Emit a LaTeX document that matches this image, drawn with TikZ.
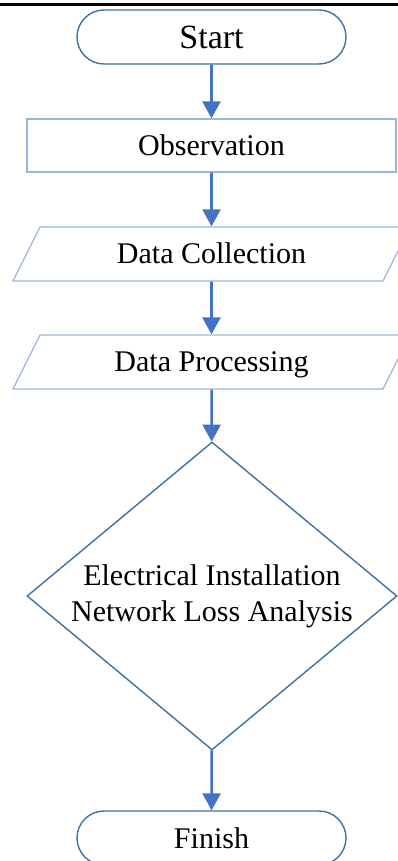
\documentclass[tikz,border=0pt]{standalone}
\usepackage{fontspec}
\setmainfont{Liberation Serif}
\usetikzlibrary{arrows.meta, shapes.geometric, shapes.misc}
\definecolor{termblue}{HTML}{41719C}
\definecolor{boxblue}{HTML}{9DB5DC}
\definecolor{flowblue}{HTML}{4472C4}
\tikzset{>={Triangle[width=18pt,length=17pt]},
  terminal/.style={rounded rectangle, draw=termblue, line width=1.4pt,
    minimum width=269pt, minimum height=54pt, inner sep=0pt},
  procbox/.style={rectangle, draw=boxblue, line width=1.3pt,
    minimum width=369pt, minimum height=53pt, inner sep=0pt},
  iobox/.style={trapezium, trapezium left angle=63.43, trapezium right angle=116.57,
    trapezium stretches body, draw=boxblue, line width=1.3pt,
    text height=22pt, text depth=4pt, inner ysep=14pt, inner xsep=0pt,
    minimum width=397pt},
  decision/.style={diamond, shape aspect=1.2, draw=termblue, line width=1.4pt,
    minimum width=370pt, minimum height=308pt, inner sep=0pt, align=center},
  flow/.style={->, draw=flowblue, line width=2.6pt}}

\begin{document}
\begin{tikzpicture}[x=1pt, y=-1pt, font=\fontsize{30}{36}\selectfont]
    \useasboundingbox (0,0) rectangle (398,861);
    \clip (0,0) rectangle (398,861);
    \draw[line width=3pt] (0,4.5) -- (398,4.5);
    \node[terminal, font=\fontsize{34}{40}\selectfont] (start) at (211.5,37) {Start};
    \node[procbox] (obs) at (211.5,145.5) {Observation};
    \node[iobox] (collect) at (211.5,254) {Data Collection};
    \node[iobox] (proc) at (211.5,362) {Data Processing};
    \node[decision] (loss) at (212,596) {Electrical Installation\\Network Loss Analysis};
    \node[terminal] (finish) at (211.5,838) {Finish};
    \draw[flow] (start) -- (obs);
    \draw[flow] (obs) -- (collect);
    \draw[flow] (collect) -- (proc);
    \draw[flow] (proc) -- (loss);
    \draw[flow] (loss) -- (finish);
\end{tikzpicture}
\end{document}
